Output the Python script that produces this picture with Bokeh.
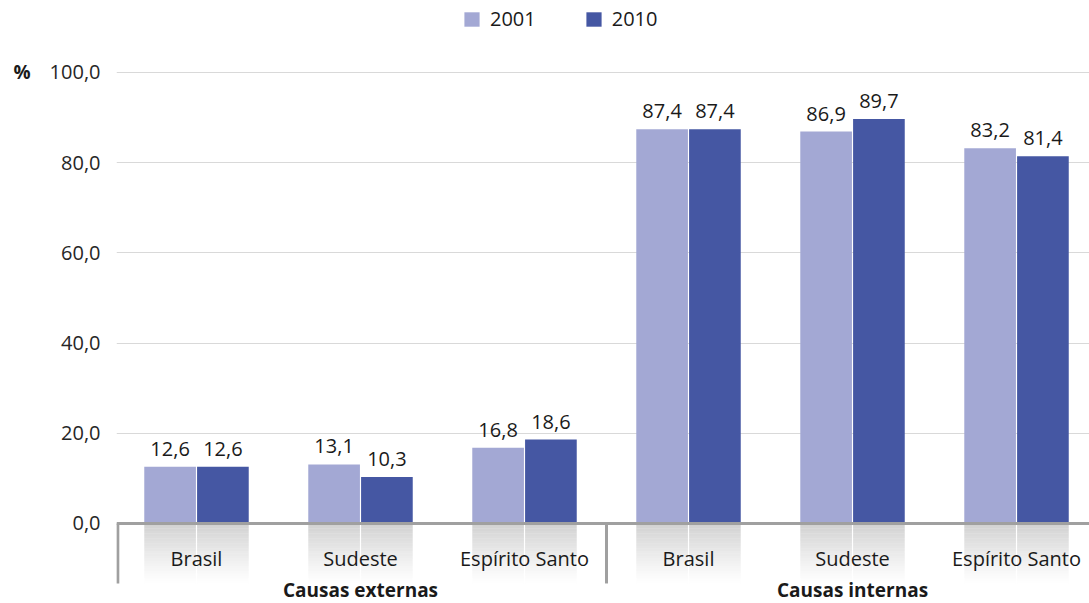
import numpy as np
from bokeh.plotting import figure
from bokeh.models import (Range1d, FixedTicker, ColumnDataSource, Legend, LegendItem, LinearAxis)
from bokeh.core.properties import value
from bokeh.embed import file_html
from bokeh.resources import INLINE

# ---- data ----
groups = ["Causas externas", "Causas internas"]
regions = ["Brasil", "Sudeste", "Espírito Santo"]
series_names = ["2001", "2010"]
vals_2001 = [12.6, 13.1, 16.8, 87.4, 86.9, 83.2]
vals_2010 = [12.6, 10.3, 18.6, 87.4, 89.7, 81.4]
y_ticks = [0, 20, 40, 60, 80, 100]
y_tick_labels = ["0,0", "20,0", "40,0", "60,0", "80,0", "100,0"]
y_unit = "%"

C_LIGHT = "#a3a8d4"
C_DARK = "#4557a3"
FONT = "Open Sans"

cats = [(g, r) for g in groups for r in regions]
idx = np.arange(len(cats), dtype=float)

def fmt(v):
    return f"{v:.1f}".replace(".", ",")

X0, X1 = -0.4878, 5.445
p = figure(width=1089, height=603, output_backend="svg", toolbar_location=None,
           x_range=Range1d(X0, X1), y_range=Range1d(-17.74, 115.96),
           min_border_left=116, min_border_right=0, min_border_top=0, min_border_bottom=0)
p.outline_line_color = None
p.xaxis.visible = False
p.xgrid.grid_line_color = None
p.background_fill_color = "white"
p.border_fill_color = "white"

# y axis
p.yaxis.ticker = FixedTicker(ticks=y_ticks)
p.yaxis.major_label_overrides = {t: l for t, l in zip(y_ticks, y_tick_labels)}
p.yaxis.axis_line_color = None
p.yaxis.major_tick_line_color = None
p.yaxis.minor_tick_line_color = None
p.yaxis.major_tick_in = 0
p.yaxis.major_tick_out = 0
p.yaxis.major_label_standoff = 16
p.yaxis.major_label_text_font = FONT
p.yaxis.major_label_text_font_size = "20px"
p.yaxis.major_label_text_color = "#262626"

# unit axis ("%") placed outside the tick labels
ax2 = LinearAxis(ticker=FixedTicker(ticks=[y_ticks[-1]]),
                 major_label_overrides={y_ticks[-1]: y_unit})
ax2.axis_line_color = None
ax2.major_tick_line_color = None
ax2.minor_tick_line_color = None
ax2.major_tick_in = 0
ax2.major_tick_out = 0
ax2.major_label_standoff = 16
ax2.major_label_text_font = FONT
ax2.major_label_text_font_size = "19px"
ax2.major_label_text_font_style = "bold"
ax2.major_label_text_color = "#1a1a1a"
p.add_layout(ax2, "left")

p.ygrid.ticker = FixedTicker(ticks=y_ticks[1:])
p.ygrid.grid_line_color = "#d9d9d9"
p.ygrid.grid_line_width = 1

bw = 0.315
off = 0.161
src = ColumnDataSource(dict(
    x1=idx - off, x2=idx + off, v1=vals_2001, v2=vals_2010,
    l1=[fmt(v) for v in vals_2001], l2=[fmt(v) for v in vals_2010],
))

# reflections below axis (gradient)
n_steps = 24
depth = 13.3
for i in range(n_steps):
    top = -depth * i / n_steps
    bot = -depth * (i + 1) / n_steps
    a = 0.6 * (1 - i / n_steps) ** 1.2
    p.vbar(x=list(idx - off), width=bw, top=top, bottom=bot, fill_color="#b4b4b4",
           fill_alpha=a, line_color=None)
    p.vbar(x=list(idx + off), width=bw, top=top, bottom=bot, fill_color="#b4b4b4",
           fill_alpha=a, line_color=None)

r1 = p.vbar(x="x1", top="v1", width=bw, source=src, fill_color=C_LIGHT, line_color=None)
r2 = p.vbar(x="x2", top="v2", width=bw, source=src, fill_color=C_DARK, line_color=None)

# value labels
for xc, vc, lc in [("x1", "v1", "l1"), ("x2", "v2", "l2")]:
    p.text(x=xc, y=vc, text=lc, source=src, text_align="center", text_baseline="bottom",
           y_offset=-11, text_font=value(FONT), text_font_size="20px", text_color="#1a1a1a")

# axis line at zero
p.segment(x0=[X0], x1=[X1], y0=[0], y1=[0], line_color="#a0a0a0", line_width=3)

# separators
n_r = len(regions)
sep_x = [X0 + 0.008] + [k * n_r - 0.5 for k in range(1, len(groups))]
p.segment(x0=sep_x, x1=sep_x, y0=[0] * len(sep_x), y1=[-13.3] * len(sep_x),
          line_color="#a0a0a0", line_width=3)

# category labels
p.text(x=list(idx), y=[-7.8] * len(idx), text=[c[1] for c in cats], text_align="center",
       text_baseline="middle", text_font=value(FONT), text_font_size="20px", text_color="#1a1a1a")
gx = [np.mean(idx[k * n_r:(k + 1) * n_r]) for k in range(len(groups))]
p.text(x=gx, y=[-14.8] * len(gx), text=groups, text_align="center", text_baseline="middle",
       text_font=value(FONT), text_font_size="19px", text_font_style="bold", text_color="#1a1a1a")

legend = Legend(items=[LegendItem(label=series_names[0], renderers=[r1]),
                       LegendItem(label=series_names[1], renderers=[r2])],
                orientation="horizontal", location=(346, 571))
legend.border_line_color = None
legend.background_fill_alpha = 0
legend.padding = 0
legend.margin = 0
legend.spacing = 48
legend.glyph_width = 19
legend.glyph_height = 18
legend.label_height = 20
legend.label_standoff = 9
legend.label_text_font = FONT
legend.label_text_font_size = "20px"
legend.label_text_color = "#1a1a1a"
p.add_layout(legend)

open("out.html", "w").write(file_html(p, INLINE))
